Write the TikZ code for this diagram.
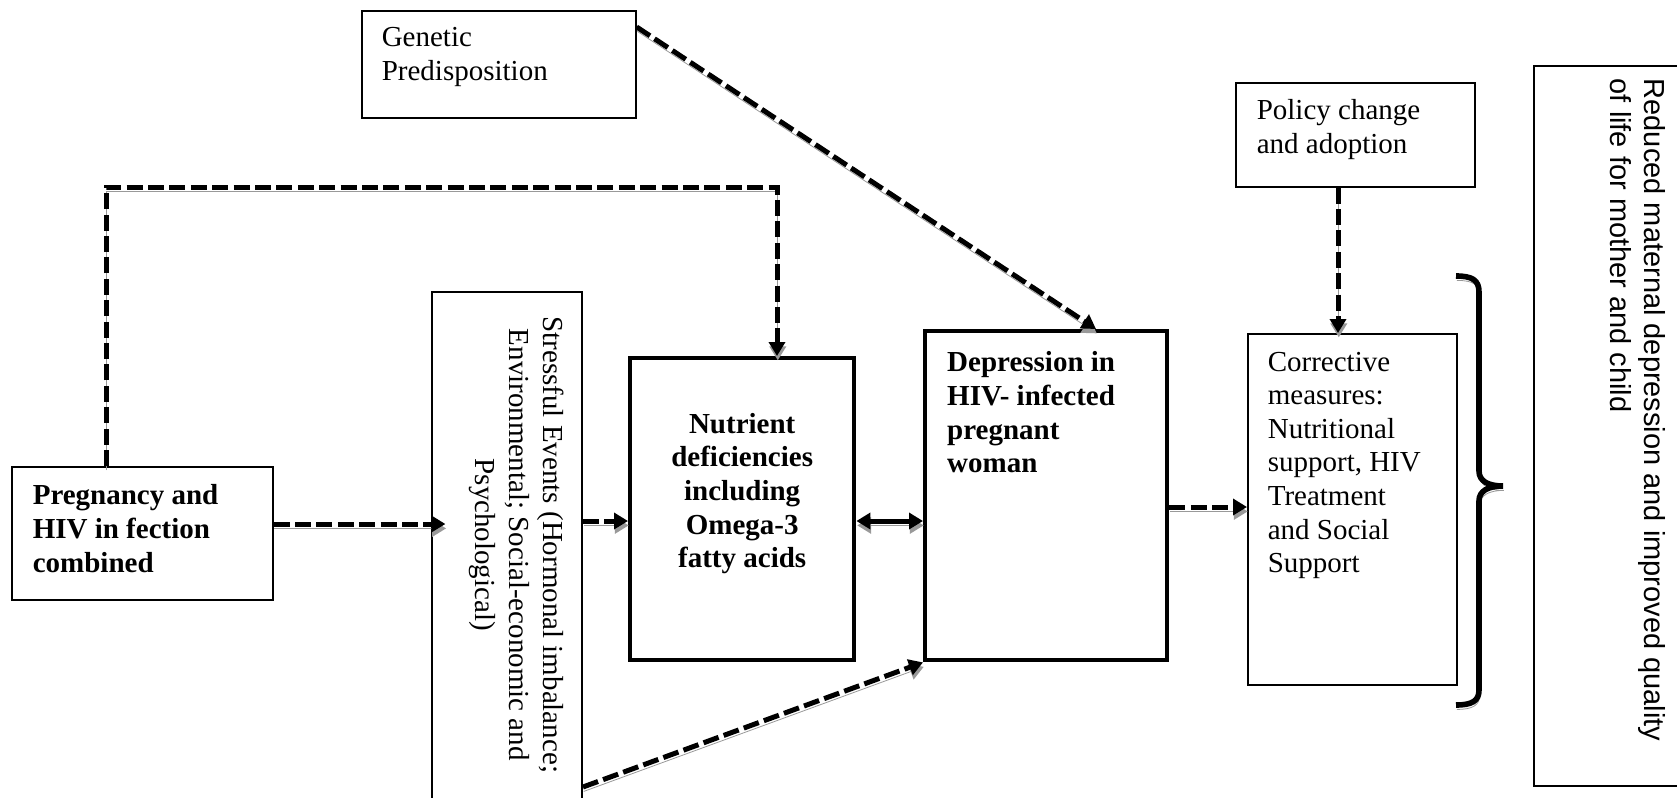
\documentclass[tikz,border=0pt]{standalone}
\usepackage{fontspec}
\setmainfont{Liberation Serif}
\newfontfamily\arialf{Liberation Sans}
\usetikzlibrary{arrows.meta,calc}
\newcommand\fsz{\fontsize{14.5}{16.8}\selectfont}
\newcommand\tb[5]{\parbox[c][#2][t]{#1}{#4\rule{0pt}{#3}#5}}
\tikzset{
  bx/.style={draw, line width=0.8pt, inner sep=0pt, anchor=north west, font=\fsz},
  thk/.style={line width=2.2pt},
  sh/.style={preaction={draw=black!40, transform canvas={shift={(0.4pt,-2.2pt)}}}},
  tip/.style={Triangle[length=7pt,width=8pt]},
  dsh/.style={line width=2.5pt, dash pattern=on 8pt off 2.7pt, -{Triangle[length=7pt,width=8pt]}, sh},
  sld/.style={line width=2.5pt, {Triangle[length=7pt,width=8pt]}-{Triangle[length=7pt,width=8pt]}, sh},
}
\begin{document}
\begin{tikzpicture}[x=0.5pt,y=-0.5pt]
\useasboundingbox (0,0) rectangle (1677,798);
% boxes
\node[bx] (gen) at (361,10) {\tb{137pt}{53.5pt}{17.8pt}{\raggedright\leftskip=10pt}{Genetic\\Predisposition}};
\node[bx] (pol) at (1235,82) {\tb{119.5pt}{52pt}{18.5pt}{\raggedright\leftskip=10.5pt}{Policy change\\and adoption}};
\node[bx] (preg) at (11,466) {\tb{130.5pt}{66.5pt}{19pt}{\raggedright\leftskip=10.5pt\bfseries}{Pregnancy and\\HIV in fection\\combined}};
\node[bx,thk] (nut) at (628,356) {\tb{112pt}{151pt}{37.5pt}{\centering\bfseries}{Nutrient\\deficiencies\\including\\Omega-3\\fatty acids}};
\node[bx,thk] (dep) at (923,329) {\tb{121pt}{164.5pt}{20.3pt}{\raggedright\leftskip=11pt\bfseries}{Depression in\\HIV- infected\\pregnant\\woman}};
\node[bx] (cor) at (1247,333) {\tb{104.5pt}{175.5pt}{18.6pt}{\raggedright\leftskip=10pt}{Corrective\\measures:\\Nutritional\\support, HIV\\Treatment\\and Social\\Support}};
\node[bx, rotate=-90, anchor=north west] (str) at (583,291)
  {\parbox[c][75pt][t]{262pt}{\rule{0pt}{19.5pt}\parbox[t]{253pt}{\fontsize{14.5}{17}\selectfont\centering Stressful Events (Hormonal imbalance;\\Environmental; Social-economic and\\Psychological)}}};
\node[bx, rotate=-90, anchor=south west] (red) at (1533,65)
  {\parbox[c][78.5pt][t]{360pt}{\arialf\fontsize{14.5}{17}\selectfont\raggedright\leftskip=6.5pt\rule{0pt}{23.3pt}Reduced maternal depression and improved quality\\of life for mother and child}};
% connectors
\draw[dsh] (preg.east |- 0,524) -- ($(str.south |- 0,524)+(14,0)$);
\draw[dsh] (str.north |- 0,521) -- (nut.west |- 0,521);
\draw[sld] (nut.east |- 0,521) -- (dep.west |- 0,521);
\draw[dsh] (str.north |- 0,787) -- (dep.south west);
\draw[dsh] (gen.east |- 0,27) -- ($(dep.north west)+(173,0)$);
\draw[dsh] (1338,0 |- pol.south) -- (1338,0 |- cor.north);
\draw[dsh] (dep.east |- 0,507) -- (cor.west |- 0,507);
\draw[dsh] (106,0 |- preg.north) |- (777,187) -- (777,0 |- nut.north);
% brace
\draw[line width=2.8pt, sh]
  (1456,276) .. controls (1472,276) and (1479,280) .. (1479,292)
  -- (1479,471) .. controls (1479,481) and (1488,486) .. (1503,486)
  .. controls (1488,486) and (1479,491) .. (1479,501)
  -- (1479,690) .. controls (1479,701) and (1472,705) .. (1456,705);
\end{tikzpicture}
\end{document}
